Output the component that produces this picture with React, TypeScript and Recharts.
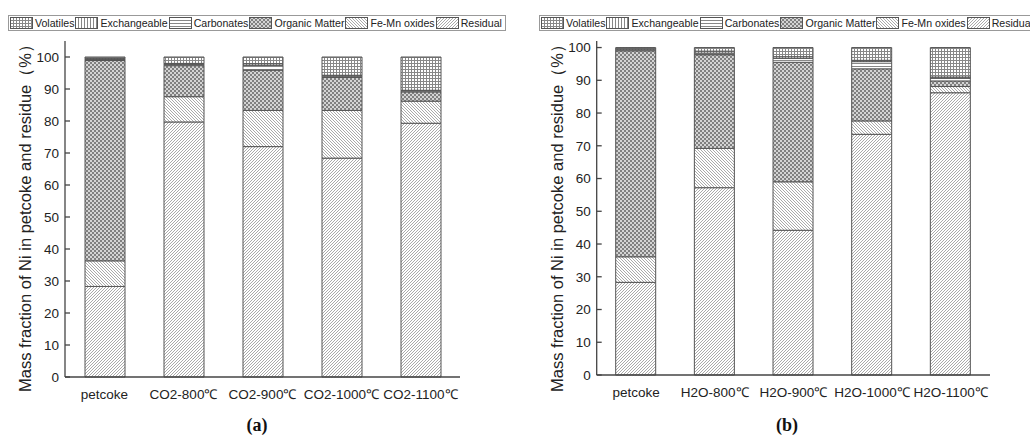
import { BarChart, Bar, XAxis, YAxis } from "recharts";

const categoriesA = ["petcoke", "CO2-800℃", "CO2-900℃", "CO2-1000℃", "CO2-1100℃"];
const categoriesB = ["petcoke", "H2O-800℃", "H2O-900℃", "H2O-1000℃", "H2O-1100℃"];

// fractions (%)
const residualA = [28.3, 79.7, 72.0, 68.4, 79.3];
const feMnA = [8.0, 7.9, 11.3, 14.9, 6.9];
const organicA = [62.6, 9.7, 12.6, 10.3, 2.9];
const carbonatesA = [0.3, 0.4, 1.5, 0.4, 0.3];
const exchangeableA = [0.3, 0.3, 0.5, 0.3, 0.2];
const volatilesA = [0.5, 2.0, 2.1, 5.7, 10.4];

// fractions (%)
const residualB = [28.3, 57.2, 44.2, 73.5, 86.2];
const feMnB = [7.8, 12.0, 14.8, 4.1, 1.9];
const organicB = [62.9, 28.6, 36.5, 15.9, 1.7];
const carbonatesB = [0.3, 0.5, 1.2, 2.2, 0.9];
const exchangeableB = [0.3, 0.6, 0.5, 0.4, 0.3];
const volatilesB = [0.4, 1.1, 2.8, 3.9, 9.0];

const yTicks = [0, 10, 20, 30, 40, 50, 60, 70, 80, 90, 100];

const SERIES = [
  { key: "residual", name: "Residual", pattern: "pat-res" },
  { key: "feMn", name: "Fe-Mn oxides", pattern: "pat-femn" },
  { key: "organic", name: "Organic Matter", pattern: "pat-org" },
  { key: "carbonates", name: "Carbonates", pattern: "pat-carb" },
  { key: "exchangeable", name: "Exchangeable", pattern: "pat-exch" },
  { key: "volatiles", name: "Volatiles", pattern: "pat-vol" },
];

const LEGEND_ORDER = ["volatiles", "exchangeable", "carbonates", "organic", "feMn", "residual"];

const FONT = "'Liberation Sans', Arial, sans-serif";
const AXIS = "#444";

function buildRows(
  cats: string[],
  res: number[],
  fm: number[],
  org: number[],
  carb: number[],
  exch: number[],
  vol: number[]
) {
  return cats.map((name, i) => ({
    name,
    residual: res[i],
    feMn: fm[i],
    organic: org[i],
    carbonates: carb[i],
    exchangeable: exch[i],
    volatiles: vol[i],
  }));
}

const dataA = buildRows(categoriesA, residualA, feMnA, organicA, carbonatesA, exchangeableA, volatilesA);
const dataB = buildRows(categoriesB, residualB, feMnB, organicB, carbonatesB, exchangeableB, volatilesB);

function PatternDefs() {
  return (
    <svg width={0} height={0} style={{ position: "absolute" }}>
      <defs>
        <pattern id="pat-vol" width={3} height={3} patternUnits="userSpaceOnUse">
          <rect width={3} height={3} fill="#fff" />
          <path d="M0 0.5H3M0.5 0V3" stroke="#888" strokeWidth={1} />
        </pattern>
        <pattern id="pat-exch" width={3} height={3} patternUnits="userSpaceOnUse">
          <rect width={3} height={3} fill="#fff" />
          <path d="M0.5 0V3" stroke="#888" strokeWidth={1} />
        </pattern>
        <pattern id="pat-carb" width={3} height={3} patternUnits="userSpaceOnUse">
          <rect width={3} height={3} fill="#fff" />
          <path d="M0 0.5H3" stroke="#888" strokeWidth={1} />
        </pattern>
        <pattern id="pat-org" width={4} height={4} patternUnits="userSpaceOnUse">
          <rect width={4} height={4} fill="#d4d4d4" />
          <rect x={0} y={0} width={2} height={2} fill="#808080" />
          <rect x={2} y={2} width={2} height={2} fill="#808080" />
        </pattern>
        <pattern id="pat-femn" width={3} height={3} patternUnits="userSpaceOnUse">
          <rect width={3} height={3} fill="#fff" />
          <path d="M0 0L3 3M-1 2L1 4M2 -1L4 1" stroke="#a0a0a0" strokeWidth={0.9} />
        </pattern>
        <pattern id="pat-res" width={3} height={3} patternUnits="userSpaceOnUse">
          <rect width={3} height={3} fill="#fff" />
          <path d="M0 3L3 0M-1 1L1 -1M2 4L4 2" stroke="#a0a0a0" strokeWidth={0.9} />
        </pattern>
      </defs>
    </svg>
  );
}

function PatternLegend({ left }: { left: number }) {
  return (
    <div
      style={{
        position: "absolute",
        left,
        top: 15,
        height: 14,
        display: "flex",
        alignItems: "center",
        border: "1px solid #999",
        background: "#fff",
        paddingLeft: 1,
        paddingRight: 2,
        fontFamily: FONT,
        fontSize: 10.6,
        color: "#222",
        whiteSpace: "nowrap",
      }}
    >
      {LEGEND_ORDER.map((k) => {
        const s = SERIES.find((x) => x.key === k)!;
        return (
          <span key={k} style={{ display: "flex", alignItems: "center" }}>
            <svg width={23} height={12} style={{ display: "block" }}>
              <rect x={0.5} y={0.5} width={22} height={11} fill={`url(#${s.pattern})`} stroke="#555" />
            </svg>
            <span style={{ marginLeft: 2, marginRight: 1 }}>{s.name}</span>
          </span>
        );
      })}
    </div>
  );
}

function Panel({
  data,
  left,
  marginLeft,
  marginBottom,
  yMax,
  caption,
  captionX,
  labelX,
}: {
  data: any[];
  left: number;
  marginLeft: number;
  marginBottom: number;
  yMax: number;
  caption: string;
  captionX: number;
  labelX: number;
}) {
  return (
    <div style={{ position: "absolute", left, top: 0, width: 480, height: 436 }}>
      <BarChart
        width={480}
        height={436}
        data={data}
        margin={{ top: 41, right: 20, bottom: marginBottom, left: marginLeft }}
      >
        <XAxis
          dataKey="name"
          height={30}
          tickLine={false}
          axisLine={{ stroke: AXIS, strokeWidth: 1.3 }}
          tickMargin={6}
          interval={0}
          tick={{ fontSize: 13.5, fill: "#222", fontFamily: FONT }}
        />
        <XAxis
          xAxisId="top"
          orientation="top"
          dataKey="name"
          height={0}
          tick={false}
          tickLine={false}
          axisLine={{ stroke: AXIS, strokeWidth: 1.3 }}
        />
        <YAxis
          width={40}
          domain={[0, yMax]}
          ticks={yTicks}
          tickSize={-5}
          tickMargin={11}
          tickLine={{ stroke: AXIS, strokeWidth: 1.3 }}
          axisLine={{ stroke: AXIS, strokeWidth: 1.3 }}
          tick={{ fontSize: 13.5, fill: "#222", fontFamily: FONT }}
        />
        <YAxis
          yAxisId="r"
          orientation="right"
          width={0}
          domain={[0, yMax]}
          tick={false}
          tickLine={false}
          axisLine={{ stroke: AXIS, strokeWidth: 1.3 }}
        />
        {SERIES.map((s) => (
          <Bar
            key={s.key}
            dataKey={s.key}
            name={s.name}
            stackId="ni"
            barSize={40}
            fill={`url(#${s.pattern})`}
            stroke="#555"
            strokeWidth={1}
            isAnimationActive={false}
          />
        ))}
      </BarChart>
      <div
        style={{
          position: "absolute",
          left: labelX,
          top: 214,
          transform: "translate(-50%, -50%) rotate(-90deg)",
          whiteSpace: "nowrap",
          fontFamily: FONT,
          fontSize: 16.5,
          color: "#222",
        }}
      >
        Mass fraction of Ni in petcoke and residue（%）
      </div>
      <div
        style={{
          position: "absolute",
          left: captionX,
          top: 425,
          transform: "translate(-50%, -50%)",
          fontFamily: "'Liberation Serif', 'DejaVu Serif', serif",
          fontWeight: "bold",
          fontSize: 18,
          color: "#111",
        }}
      >
        {caption}
      </div>
    </div>
  );
}

export default function App() {
  return (
    <div
      style={{
        position: "absolute",
        left: 0,
        top: 0,
        width: 1030,
        height: 436,
        overflow: "hidden",
        background: "#fff",
      }}
    >
      <PatternDefs />
      <Panel
        data={dataA}
        left={0}
        marginLeft={25}
        marginBottom={29}
        yMax={105}
        caption="(a)"
        captionX={257}
        labelX={26}
      />
      <Panel
        data={dataB}
        left={530}
        marginLeft={26.7}
        marginBottom={31}
        yMax={102}
        caption="(b)"
        captionX={257}
        labelX={27.5}
      />
      <PatternLegend left={8} />
      <PatternLegend left={539} />
    </div>
  );
}
